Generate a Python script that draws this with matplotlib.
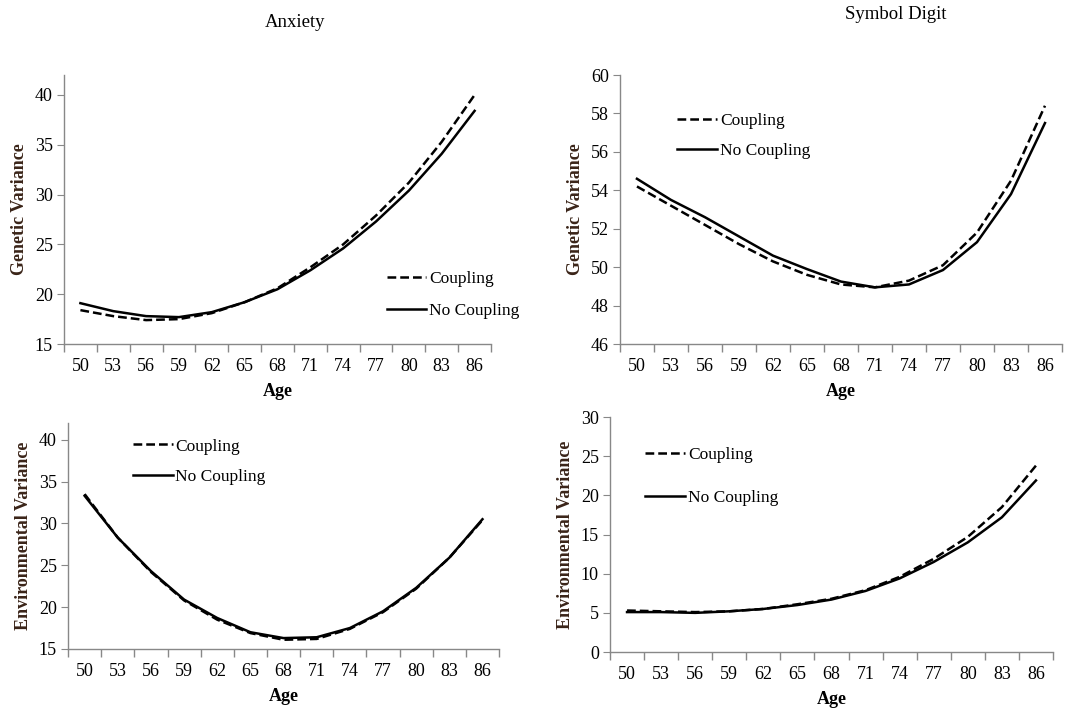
import matplotlib
matplotlib.use("Agg")
import matplotlib.pyplot as plt

plt.rcParams['font.family'] = ['Liberation Serif', 'DejaVu Serif']

# Datos
ages = [50, 53, 56, 59, 62, 65, 68, 71, 74, 77, 80, 83, 86]

anx_gen_coupling = [18.4, 17.8, 17.4, 17.5, 18.1, 19.2, 20.6, 22.7, 25.0, 27.9, 31.2, 35.3, 40.0]
anx_gen_nocoupling = [19.1, 18.3, 17.8, 17.7, 18.2, 19.2, 20.5, 22.4, 24.6, 27.3, 30.4, 34.1, 38.4]

sym_gen_coupling = [54.2, 53.2, 52.2, 51.2, 50.3, 49.6, 49.1, 48.95, 49.3, 50.1, 51.8, 54.5, 58.4]
sym_gen_nocoupling = [54.6, 53.5, 52.6, 51.6, 50.6, 49.9, 49.25, 48.95, 49.1, 49.85, 51.3, 53.8, 57.5]

anx_env_coupling = [33.5, 28.3, 24.2, 20.8, 18.5, 16.9, 16.1, 16.2, 17.4, 19.4, 22.2, 25.9, 30.4]
anx_env_nocoupling = [33.3, 28.3, 24.3, 20.9, 18.7, 17.0, 16.3, 16.4, 17.5, 19.5, 22.3, 25.9, 30.5]

sym_env_coupling = [5.3, 5.2, 5.1, 5.2, 5.5, 6.1, 6.8, 7.9, 9.6, 11.9, 14.7, 18.5, 23.8]
sym_env_nocoupling = [5.1, 5.1, 5.0, 5.2, 5.5, 6.0, 6.7, 7.8, 9.4, 11.5, 14.0, 17.2, 21.9]

fig = plt.figure(figsize=(10.7, 7.13), dpi=100)

panels = [
    # rect, coupling, no coupling, ylim, yticks, ylabel, legend anchor, labelspacing
    ([0.0598, 0.5175, 0.3991, 0.3773], anx_gen_coupling, anx_gen_nocoupling,
     (15, 42), range(15, 41, 5), "Genetic Variance", (0.735, 0.305), 0.9),
    ([0.5794, 0.5175, 0.4131, 0.3773], sym_gen_coupling, sym_gen_nocoupling,
     (46, 60), range(46, 61, 2), "Genetic Variance", (0.11, 0.89), 0.75),
    ([0.0636, 0.0898, 0.4028, 0.3170], anx_env_coupling, anx_env_nocoupling,
     (15, 42), range(15, 41, 5), "Environmental Variance", (0.13, 0.97), 0.85),
    ([0.5701, 0.0855, 0.4140, 0.3296], sym_env_coupling, sym_env_nocoupling,
     (0, 30), range(0, 31, 5), "Environmental Variance", (0.06, 0.91), 1.55),
]

x = list(range(len(ages)))
for rect, coup, nocoup, ylim, yticks, ylabel, anchor, lspace in panels:
    ax = fig.add_axes(rect)
    ax.plot(x, coup, color='black', lw=1.8, ls=(0, (3.5, 1.6)), label='Coupling')
    ax.plot(x, nocoup, color='black', lw=1.8, label='No Coupling')
    ax.set_xlim(-0.5, len(ages) - 0.5)
    ax.set_ylim(*ylim)
    ax.set_yticks(list(yticks))
    ax.set_xticks(x)
    ax.set_xticklabels([str(a) for a in ages])
    # marcas entre categorias, como en Excel
    ax.set_xticks([i - 0.5 for i in range(len(ages) + 1)], minor=True)
    ax.tick_params(axis='x', which='major', length=0, labelsize=13, pad=10)
    ax.tick_params(axis='x', which='minor', length=6, color='#888888', width=1)
    ax.tick_params(axis='y', length=5, color='#888888', labelsize=13, pad=3)
    for s in ['top', 'right']:
        ax.spines[s].set_visible(False)
    for s in ['left', 'bottom']:
        ax.spines[s].set_color('#888888')
        ax.spines[s].set_linewidth(1)
    ax.set_xlabel("Age", fontsize=13, fontweight='bold', labelpad=6)
    ax.set_ylabel(ylabel, fontsize=13, fontweight='bold', color='#3a2418', labelpad=5)
    ax.legend(loc='upper left', bbox_to_anchor=anchor, frameon=False, fontsize=12.5,
              handlelength=2.3, handletextpad=0.15, labelspacing=lspace, borderpad=0)

fig.text(0.276, 0.969, "Anxiety", ha='center', va='center', fontsize=13.5)
fig.text(0.837, 0.979, "Symbol Digit", ha='center', va='center', fontsize=13.5)

plt.savefig('out.png', dpi=100)
